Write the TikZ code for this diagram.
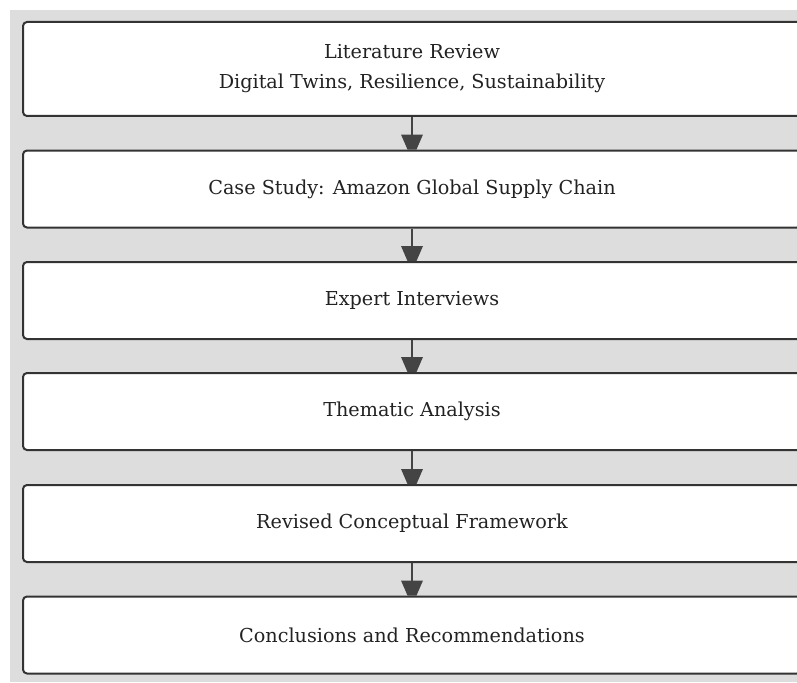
\documentclass[tikz,border=0pt]{standalone}
\usepackage{fontspec}
\setmainfont{DejaVu Serif}
\usetikzlibrary{calc}
\definecolor{bggrey}{HTML}{DDDDDD}
\definecolor{edgegrey}{HTML}{333333}
\definecolor{arrowgrey}{HTML}{444444}
\definecolor{textcol}{HTML}{222222}
\tikzset{
  stagebox/.style={draw=edgegrey, line width=2pt, fill=white, rounded corners=4pt,
    minimum width=778pt, align=center, inner sep=0pt,
    font=\fontsize{19.2pt}{30pt}\selectfont, text=textcol},
  flowline/.style={draw=arrowgrey, line width=2pt},
  headfill/.style={fill=arrowgrey}
}
\begin{document}
\begin{tikzpicture}[x=1pt,y=-1pt]
\useasboundingbox (0,0) rectangle (797,682);
\clip (0,0) rectangle (797,682);
\fill[bggrey] (10,10) rectangle (797,682);
\node[stagebox, minimum height=94pt] (s1) at (412,69) {Literature Review\\Digital Twins, Resilience, Sustainability};
\node[stagebox, minimum height=77pt] (s2) at (412,189) {Case Study: Amazon Global Supply Chain};
\node[stagebox, minimum height=77pt] (s3) at (412,300.5) {Expert Interviews};
\node[stagebox, minimum height=77pt] (s4) at (412,411.5) {Thematic Analysis};
\node[stagebox, minimum height=77pt] (s5) at (412,523.5) {Revised Conceptual Framework};
\node[stagebox, minimum height=77pt] (s6) at (412,635) {Conclusions and Recommendations};
\foreach \a/\b in {s1/s2,s2/s3,s3/s4,s4/s5,s5/s6}{
  \draw[flowline] (\a.south) -- ($(\b.north)+(0,-10)$);
  \fill[headfill] ($(\b.north)+(-11,-15)$) -- ++(22,0) -- ++(-6.5,15) -- ++(-9,0) -- cycle;
}
\end{tikzpicture}
\end{document}
